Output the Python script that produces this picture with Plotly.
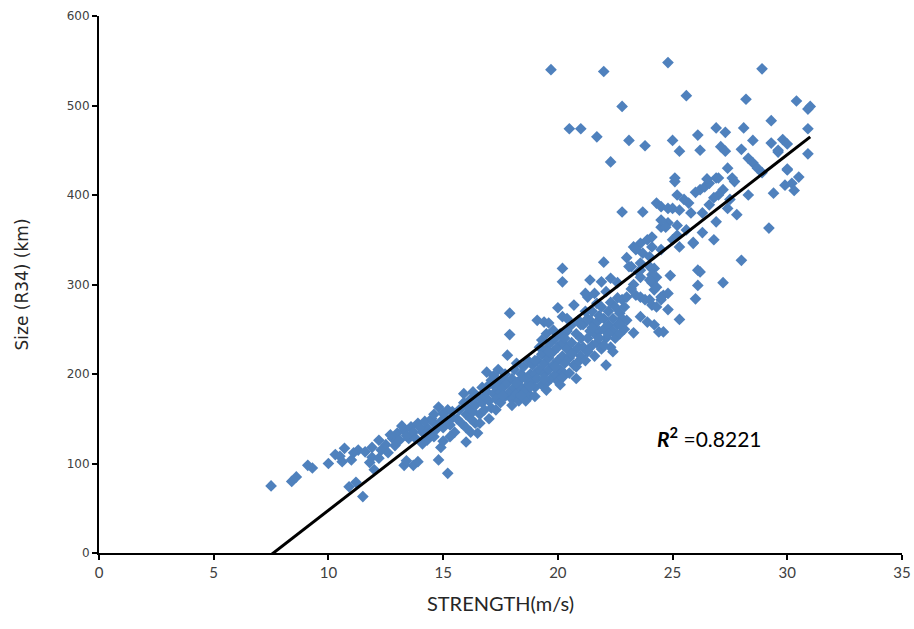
import plotly.graph_objects as go

# Tropical cyclone strength (m/s) versus size R34 (km), grouped by strength band
pts_weak = [
    (7.5, 75), (8.4, 80), (8.6, 85), (9.1, 98), (9.3, 95), (10.0, 100), (10.3, 110),
    (10.7, 117), (10.6, 102), (11.0, 104), (10.9, 74), (11.2, 79), (11.5, 63),
    (11.3, 115), (11.6, 113), (11.9, 118), (12.2, 126), (12.3, 115), (11.9, 107),
    (11.8, 101), (12.0, 93), (12.2, 106), (12.5, 121), (10.5, 108), (11.1, 112), (12.6, 112),
]

pts_moderate = [
    (12.8, 128), (13.0, 134), (13.3, 137), (13.5, 128), (13.6, 141), (13.9, 145),
    (14.1, 135), (14.3, 140), (14.6, 145), (14.8, 163), (15.0, 156), (15.2, 160),
    (15.4, 151), (14.3, 126), (14.6, 130), (14.9, 118), (13.7, 98), (13.9, 102),
    (13.3, 98), (13.4, 103), (14.8, 104), (15.2, 89), (12.9, 120), (13.1, 126),
    (13.4, 131), (13.7, 135), (13.8, 128), (14.0, 140), (14.2, 147), (14.4, 133),
    (14.5, 150), (14.7, 138), (14.9, 147), (15.0, 140), (15.1, 150), (15.3, 143),
    (15.4, 158), (15.5, 135), (14.1, 122), (13.2, 142), (12.7, 132), (14.6, 155),
    (15.3, 130), (15.0, 125),
]

pts_strong = [
    (15.6, 150), (15.7, 160), (15.8, 145), (15.9, 168), (16.0, 155), (16.0, 140),
    (16.1, 162), (16.2, 150), (16.2, 172), (16.3, 158), (16.4, 145), (16.4, 165),
    (16.5, 175), (16.5, 134), (16.0, 124), (16.6, 155), (16.7, 168), (16.7, 185),
    (16.8, 160), (16.8, 175), (16.9, 202), (16.9, 180), (17.0, 170), (17.0, 188),
    (17.1, 193), (17.1, 162), (17.2, 178), (17.2, 198), (17.3, 185), (17.3, 172),
    (17.4, 190), (17.4, 205), (17.5, 180), (17.5, 168), (17.6, 195), (17.6, 185),
    (17.7, 175), (17.7, 200), (17.8, 221), (17.9, 244), (17.9, 268), (17.8, 190),
    (17.9, 180), (18.0, 195), (18.0, 172), (18.1, 205), (18.1, 185), (18.2, 178),
    (18.2, 212), (18.3, 192), (18.3, 170), (18.4, 200), (18.4, 185), (18.5, 178),
    (18.5, 208), (18.6, 195), (18.6, 182), (18.7, 215), (18.7, 188), (18.8, 200),
    (18.8, 176), (18.9, 192), (18.9, 210), (19.0, 185), (19.0, 200), (15.9, 178),
    (16.3, 180), (16.6, 145), (17.3, 160), (18.0, 165), (18.6, 170), (19.0, 175),
    (17.0, 150), (16.2, 135), (17.6, 176), (18.2, 190), (18.8, 186), (18.4, 176),
]

pts_severe = [
    (19.1, 260), (19.4, 258), (19.6, 257), (19.8, 249), (20.0, 274), (20.2, 264),
    (20.2, 303), (20.2, 318), (20.7, 277), (19.3, 238), (19.5, 245), (19.2, 230),
    (19.1, 195), (19.1, 215), (19.2, 205), (19.3, 188), (19.3, 222), (19.4, 200),
    (19.4, 212), (19.5, 190), (19.5, 228), (19.6, 205), (19.6, 218), (19.7, 195),
    (19.7, 235), (19.8, 210), (19.8, 225), (19.9, 200), (19.9, 240), (20.0, 215),
    (20.0, 230), (20.0, 192), (20.1, 205), (20.1, 245), (20.2, 220), (20.2, 235),
    (20.3, 200), (20.3, 212), (20.4, 228), (20.4, 248), (20.5, 201), (20.5, 218),
    (20.6, 235), (20.6, 255), (20.7, 210), (20.7, 225), (20.8, 208), (20.8, 245),
    (20.9, 230), (20.9, 260), (21.0, 220), (21.0, 240), (19.5, 182), (20.1, 188),
    (20.8, 195), (19.0, 215), (20.4, 262), (19.6, 225), (19.9, 208), (20.3, 240),
    (20.6, 222), (20.9, 214), (19.4, 195), (20.2, 196),
]

pts_intense = [
    (21.3, 286), (21.7, 279), (21.4, 305), (21.9, 303), (22.0, 325), (22.3, 307),
    (22.6, 302), (22.8, 283), (23.0, 286), (22.7, 268), (21.1, 230), (21.1, 255),
    (21.2, 215), (21.2, 270), (21.3, 240), (21.3, 225), (21.4, 260), (21.4, 248),
    (21.5, 232), (21.5, 270), (21.6, 245), (21.6, 220), (21.7, 258), (21.7, 235),
    (21.8, 265), (21.8, 248), (21.9, 228), (21.9, 275), (22.0, 250), (22.0, 262),
    (22.1, 210), (22.1, 240), (22.2, 270), (22.2, 255), (22.3, 230), (22.3, 280),
    (22.4, 248), (22.4, 262), (22.5, 240), (22.5, 275), (22.6, 255), (22.6, 285),
    (22.7, 245), (22.8, 262), (22.9, 250), (22.9, 275), (23.0, 260), (21.2, 290),
    (21.6, 290), (22.1, 292), (21.0, 255), (22.4, 225), (21.5, 252), (21.8, 240),
    (22.2, 245), (22.0, 232), (21.3, 262), (22.7, 256),
]

pts_very_intense = [
    (23.2, 320), (23.5, 314), (24.2, 318), (24.3, 308), (24.0, 320), (24.1, 311),
    (24.1, 302), (24.2, 294), (24.6, 288), (24.5, 283), (24.1, 277), (24.3, 275),
    (24.8, 272), (25.3, 261), (23.6, 264), (23.9, 258), (24.2, 255), (23.3, 246),
    (24.4, 247), (24.6, 247), (23.4, 288), (23.6, 286), (23.8, 283), (24.0, 283),
    (24.5, 286), (24.8, 290), (24.3, 297), (24.0, 305), (23.6, 308), (23.6, 316),
    (23.6, 324), (24.0, 331), (23.3, 342), (23.6, 346), (23.9, 350), (24.1, 353),
    (24.5, 364), (24.8, 369), (25.2, 366), (25.6, 361), (25.9, 346), (23.4, 339),
    (24.1, 342), (24.5, 339), (24.7, 364), (25.2, 355), (25.0, 350), (23.7, 381),
    (22.8, 381), (24.5, 372), (24.3, 391), (24.5, 387), (24.8, 385), (25.0, 385),
    (25.3, 383), (25.7, 391), (23.1, 320), (23.3, 300), (23.0, 330), (23.2, 295),
    (23.7, 335), (24.9, 310),
]

pts_extreme = [
    (25.3, 342), (25.9, 347), (26.3, 358), (26.8, 350), (28.0, 327), (26.2, 314),
    (26.1, 299), (27.2, 302), (26.0, 284), (26.1, 316), (25.1, 415), (25.2, 400),
    (26.0, 403), (26.2, 406), (26.4, 409), (26.6, 413), (26.9, 419), (27.2, 406),
    (27.0, 400), (26.8, 397), (26.6, 389), (27.4, 385), (27.8, 378), (27.7, 415),
    (27.4, 430), (28.3, 441), (28.5, 436), (28.7, 430), (30.0, 428), (29.9, 411),
    (29.4, 402), (29.2, 363), (29.6, 448), (30.9, 446), (25.1, 419), (26.5, 418),
    (27.0, 419), (27.6, 419), (25.5, 395), (25.8, 380), (26.3, 380), (26.9, 370),
    (27.5, 395), (28.3, 400), (28.9, 425), (30.2, 413), (30.5, 420), (30.3, 405),
]

pts_outliers = [
    (19.7, 540), (22.0, 538), (24.8, 548), (28.9, 541), (22.8, 499), (25.6, 511),
    (28.2, 507), (30.4, 505), (30.9, 496), (31.0, 499), (20.5, 474), (21.0, 474),
    (21.7, 465), (23.1, 461), (23.8, 455), (22.3, 437), (25.0, 461), (25.3, 449),
    (26.1, 467), (26.2, 450), (26.9, 475), (27.3, 470), (27.1, 454), (28.1, 475),
    (28.5, 461), (28.0, 451), (29.3, 483), (29.3, 458), (29.8, 462), (30.0, 457),
    (29.6, 450), (30.9, 474), (30.0, 429), (27.3, 449),
]

# Linear trendline coefficients and its coefficient of determination
fit_slope = 19.87
fit_intercept = -151.0
r_squared = 0.8221

x_ticks = [0, 5, 10, 15, 20, 25, 30, 35]
y_ticks = [0, 100, 200, 300, 400, 500, 600]

groups = [pts_weak, pts_moderate, pts_strong, pts_severe,
          pts_intense, pts_very_intense, pts_extreme, pts_outliers]
strength = [p[0] for g in groups for p in g]
size_r34 = [p[1] for g in groups for p in g]

x_lo, x_hi = min(strength), max(strength)
fit_x = [x_lo, x_hi]
fit_y = [fit_slope * v + fit_intercept for v in fit_x]

fig = go.Figure()
fig.add_trace(go.Scatter(
    x=strength, y=size_r34, mode="markers",
    marker=dict(symbol="diamond", size=9, color="#4F81BD", line=dict(width=0)),
    showlegend=False,
))
fig.add_trace(go.Scatter(
    x=fit_x, y=fit_y, mode="lines",
    line=dict(color="black", width=3),
    showlegend=False,
))

fig.add_annotation(
    x=26.6, y=130, xref="x", yref="y", showarrow=False,
    text=f"<b><i>R</i><sup>2</sup></b> ={r_squared:.4f}",
    font=dict(family="Lato, Noto Sans, sans-serif", size=21, color="black"),
)

fig.update_layout(
    width=914, height=629,
    margin=dict(l=99, r=12, t=16, b=76),
    paper_bgcolor="white", plot_bgcolor="white",
)
fig.update_xaxes(
    range=[0, 35], tickvals=x_ticks, ticktext=[str(t) for t in x_ticks],
    automargin=False,
    showline=True, linecolor="black", linewidth=2,
    ticks="outside", ticklen=5, tickwidth=2, tickcolor="black",
    showgrid=False, zeroline=False,
    tickfont=dict(family="Lato, sans-serif", size=15, color="#404040"),
    title=dict(text="STRENGTH(m/s)", standoff=17,
               font=dict(family="Lato, sans-serif", size=20, color="#262626")),
)
fig.update_yaxes(
    range=[0, 600], tickvals=y_ticks, ticktext=[str(t) for t in y_ticks],
    automargin=False,
    showline=True, linecolor="black", linewidth=2,
    ticks="outside", ticklen=5, tickwidth=2, tickcolor="black",
    showgrid=False, zeroline=False,
    tickfont=dict(family="DejaVu Sans, sans-serif", size=12, color="#404040"),
    title=dict(text="Size (R34) (km)", standoff=34,
               font=dict(family="DejaVu Sans, sans-serif", size=17, color="#262626")),
)

fig.write_html("out.html")
